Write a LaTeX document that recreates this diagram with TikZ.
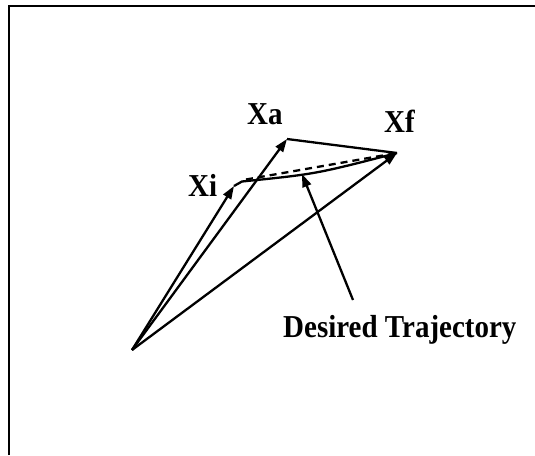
\documentclass[tikz,border=0pt]{standalone}
\usepackage{fontspec}
\setmainfont{Liberation Serif}
\usetikzlibrary{arrows.meta}
\begin{document}
\begin{tikzpicture}[x=1pt,y=-1pt,
  vec/.style={line width=2.3pt,-{Triangle[length=13pt,width=9pt]}},
  ln/.style={line width=2.3pt},
  lbl/.style={font=\fontsize{29}{35}\selectfont\bfseries,inner sep=0pt,anchor=base west,yscale=1.1,transform shape}]
\useasboundingbox (0,0) rectangle (535,455);
\draw[line width=2.2pt] (9,455) -- (9,6) -- (535,6);
\coordinate (O) at (132,350);
\coordinate (Xi) at (234,186);
\coordinate (Xa) at (287,139);
\coordinate (Xf) at (397,153);
\coordinate (h) at (242,181.5);
\coordinate (d0) at (246,179.5);
\coordinate (tp) at (302,174);
\coordinate (ps) at (353,300);
\node[lbl] (lxa) at (247,124) {Xa};
\node[lbl] (lxi) at (188,196) {Xi};
\node[lbl] (lxf) at (384,132) {Xf};
\node[lbl] (dt) at (283,337) {Desired Trajectory};
\draw[vec] (O) -- (Xi);
\draw[vec] (O) -- (Xa);
\draw[vec] (O) -- (Xf);
\draw[ln,line join=round] (Xi) -- (h) .. controls (316,174) .. (Xf);
\draw[ln] (Xa) -- (Xf);
\draw[ln,dash pattern=on 7pt off 5pt] (d0) -- (Xf);
\draw[vec] (ps) -- (tp);
\end{tikzpicture}
\end{document}
